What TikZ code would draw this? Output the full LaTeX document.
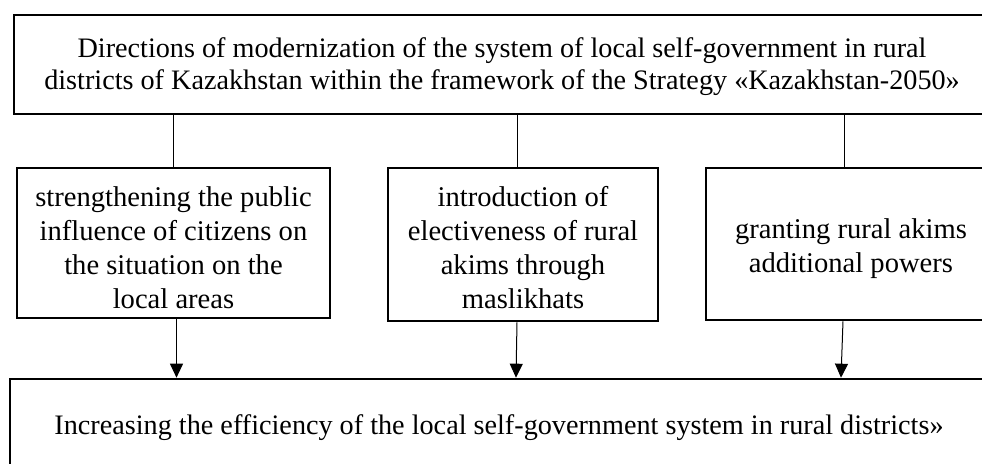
\documentclass[tikz,border=0pt]{standalone}
\usepackage{fontspec}
\setmainfont{Liberation Serif}
\usetikzlibrary{arrows.meta, positioning, calc}
\newcommand{\liftup}[1]{\rule{0pt}{#1}}

\begin{document}
\begin{tikzpicture}[
    x=0.5pt, y=-0.5pt,
    topbox/.style={draw, line width=1.3pt, minimum width=488pt, minimum height=49.5pt, align=center, font=\fontsize{14.1}{16}\selectfont},
    dirbox/.style={draw, line width=1.3pt, align=center, font=\fontsize{14.3}{17}\selectfont},
    resbox/.style={draw, line width=1.3pt, minimum width=489pt, minimum height=47pt, align=center, font=\fontsize{14.1}{16}\selectfont},
    link/.style={line width=0.5pt},
    arrow/.style={-{Triangle[length=7pt, width=6.5pt]}, line width=0.5pt}
]

% Frame
\clip (0,0) rectangle (982,464);
\fill[white] (0,0) rectangle (982,464);

% Strategy
\node[topbox] (top) at (502,64.5) {\liftup{12.5pt}Directions of modernization of the system of local self-government in rural\\districts of Kazakhstan within the framework of the Strategy «Kazakhstan-2050»};

% Directions
\node[dirbox, minimum width=156.5pt, minimum height=75pt] (d1) at (173.5,243) {\liftup{14.5pt}strengthening the public\\influence of citizens on\\the situation on the\\local areas};
\node[dirbox, minimum width=135pt, minimum height=76.5pt] (d2) at (523,244.5) {\liftup{13.5pt}introduction of\\electiveness of rural\\akims through\\maslikhats};
\node[dirbox, minimum width=145pt, minimum height=76pt] (d3) at (851,244) {\liftup{14.5pt}granting rural akims\\additional powers};

% Result
\node[resbox] (res) at (499,426) {\liftup{11.5pt}Increasing the efficiency of the local self-government system in rural districts»};

% Links from the strategy
\draw[link] (d1.north) -- (d1.north |- top.south);
\draw[link] ([xshift=-3pt]d2.north) -- ([xshift=-3pt]d2.north |- top.south);
\draw[link] ([xshift=-3.5pt]d3.north) -- ([xshift=-3.5pt]d3.north |- top.south);

% Arrows to the result
\draw[arrow] ([xshift=1.5pt]d1.south) -- ([xshift=1.5pt]d1.south |- res.north);
\draw[arrow] ([xshift=-3pt]d2.south) -- ([xshift=-3.5pt]d2.south |- res.north);
\draw[arrow] ([xshift=-4pt]d3.south) -- ([xshift=-5pt]d3.south |- res.north);

\end{tikzpicture}
\end{document}
